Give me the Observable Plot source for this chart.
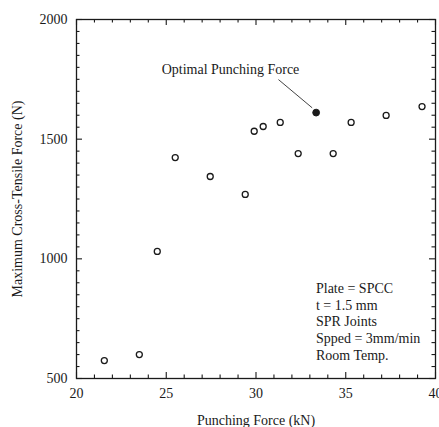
<!DOCTYPE html>
<html>
<head>
<meta charset="utf-8">
<script src="https://cdn.jsdelivr.net/npm/d3@7"></script>
<script src="https://cdn.jsdelivr.net/npm/@observablehq/plot@0.6"></script>
<style>
  html, body { margin: 0; padding: 0; background: #fff; }
  svg { display: block; }
</style>
</head>
<body>
<div id="chart"></div>
<script>
// Data
const punchingForce = [21.55, 23.5, 24.5, 25.5, 27.45, 29.4, 29.9, 30.4, 31.35, 32.35, 33.35, 34.3, 35.3, 37.25, 39.25];
const crossTensile  = [575, 600, 1031, 1423, 1344, 1269, 1533, 1553, 1570, 1440, 1611, 1440, 1570, 1599, 1636];
const isOptimal     = [false, false, false, false, false, false, false, false, false, false, true, false, false, false, false];

const xMajor = [20, 25, 30, 35, 40];
const xMinor = d3.range(20, 40.01, 1).filter(v => v % 5 !== 0);
const yMajor = [500, 1000, 1500, 2000];
const yMinor = d3.range(500, 2000.01, 50).filter(v => v % 500 !== 0);

const annotationText = ["Optimal Punching Force"];
const annotationPos = [{x: 28.58, y: 1790}];
const leader = [{x1: 31.25, y1: 1749, x2: 33.13, y2: 1631}];
const infoLines = ["Plate = SPCC", "t = 1.5 mm", "SPR Joints", "Spped = 3mm/min", "Room Temp."];
const infoPos = [{x: 33.34, y: 908}];

const points = punchingForce.map((x, i) => ({x, y: crossTensile[i], opt: isOptimal[i]}));

// tick lengths in data units (px converted through scale ratios)
const pxX = 20 / 359;   // kN per px
const pxY = 1500 / 359; // N per px
const majorLen = 6, minorLen = 3.5;

const font = "'Liberation Serif', 'Times New Roman', serif";
const ink = "#1a1a1a";

const chart = Plot.plot({
  width: 439,
  height: 427,
  marginLeft: 76,
  marginRight: 4,
  marginTop: 19,
  marginBottom: 49,
  style: {fontFamily: font, fontSize: "14px", color: ink, background: "#fff"},
  x: {domain: [20, 40]},
  y: {domain: [500, 2000]},
  marks: [
    Plot.frame({stroke: ink, strokeWidth: 1.3}),
    // bottom ticks
    Plot.ruleX(xMajor, {x: d => d, y1: 500, y2: 500 + majorLen * pxY, stroke: ink, strokeWidth: 1.1}),
    Plot.ruleX(xMinor, {x: d => d, y1: 500, y2: 500 + minorLen * pxY, stroke: ink, strokeWidth: 1.1}),
    // top ticks
    Plot.ruleX(xMajor, {x: d => d, y1: 2000, y2: 2000 - majorLen * pxY, stroke: ink, strokeWidth: 1.1}),
    Plot.ruleX(xMinor, {x: d => d, y1: 2000, y2: 2000 - minorLen * pxY, stroke: ink, strokeWidth: 1.1}),
    // left ticks
    Plot.ruleY(yMajor, {y: d => d, x1: 20, x2: 20 + majorLen * pxX, stroke: ink, strokeWidth: 1.1}),
    Plot.ruleY(yMinor, {y: d => d, x1: 20, x2: 20 + minorLen * pxX, stroke: ink, strokeWidth: 1.1}),
    // right ticks
    Plot.ruleY(yMajor, {y: d => d, x1: 40, x2: 40 - majorLen * pxX, stroke: ink, strokeWidth: 1.1}),
    Plot.ruleY(yMinor, {y: d => d, x1: 40, x2: 40 - minorLen * pxX, stroke: ink, strokeWidth: 1.1}),
    Plot.axisX({ticks: xMajor, tickSize: 0, tickPadding: 10, fontSize: 14, fill: ink, tickFormat: d3.format("d"),
      label: "Punching Force (kN)", labelAnchor: "center", labelArrow: "none", labelOffset: 46}),
    Plot.axisY({ticks: yMajor, tickSize: 0, tickPadding: 9, fontSize: 14, fill: ink, tickFormat: d3.format("d"),
      label: "Maximum Cross-Tensile Force (N)", labelAnchor: "center", labelArrow: "none", labelOffset: 64}),
    Plot.link(leader, {x1: "x1", y1: "y1", x2: "x2", y2: "y2", stroke: "#444", strokeWidth: 1}),
    Plot.dot(points.filter(d => !d.opt), {x: "x", y: "y", r: 3, stroke: ink, strokeWidth: 1.3, fill: "none"}),
    Plot.dot(points.filter(d => d.opt), {x: "x", y: "y", r: 3.4, stroke: ink, strokeWidth: 1, fill: ink}),
    Plot.text(annotationPos, {x: "x", y: "y", text: () => annotationText[0], fontSize: 14, fill: ink, textAnchor: "middle"}),
    Plot.text(infoPos, {x: "x", y: "y", text: () => infoLines.join("\n"), fontSize: 14, fill: ink,
      textAnchor: "start", lineAnchor: "top", lineHeight: 1.2})
  ]
});
document.getElementById("chart").append(chart);
</script>
</body>
</html>
